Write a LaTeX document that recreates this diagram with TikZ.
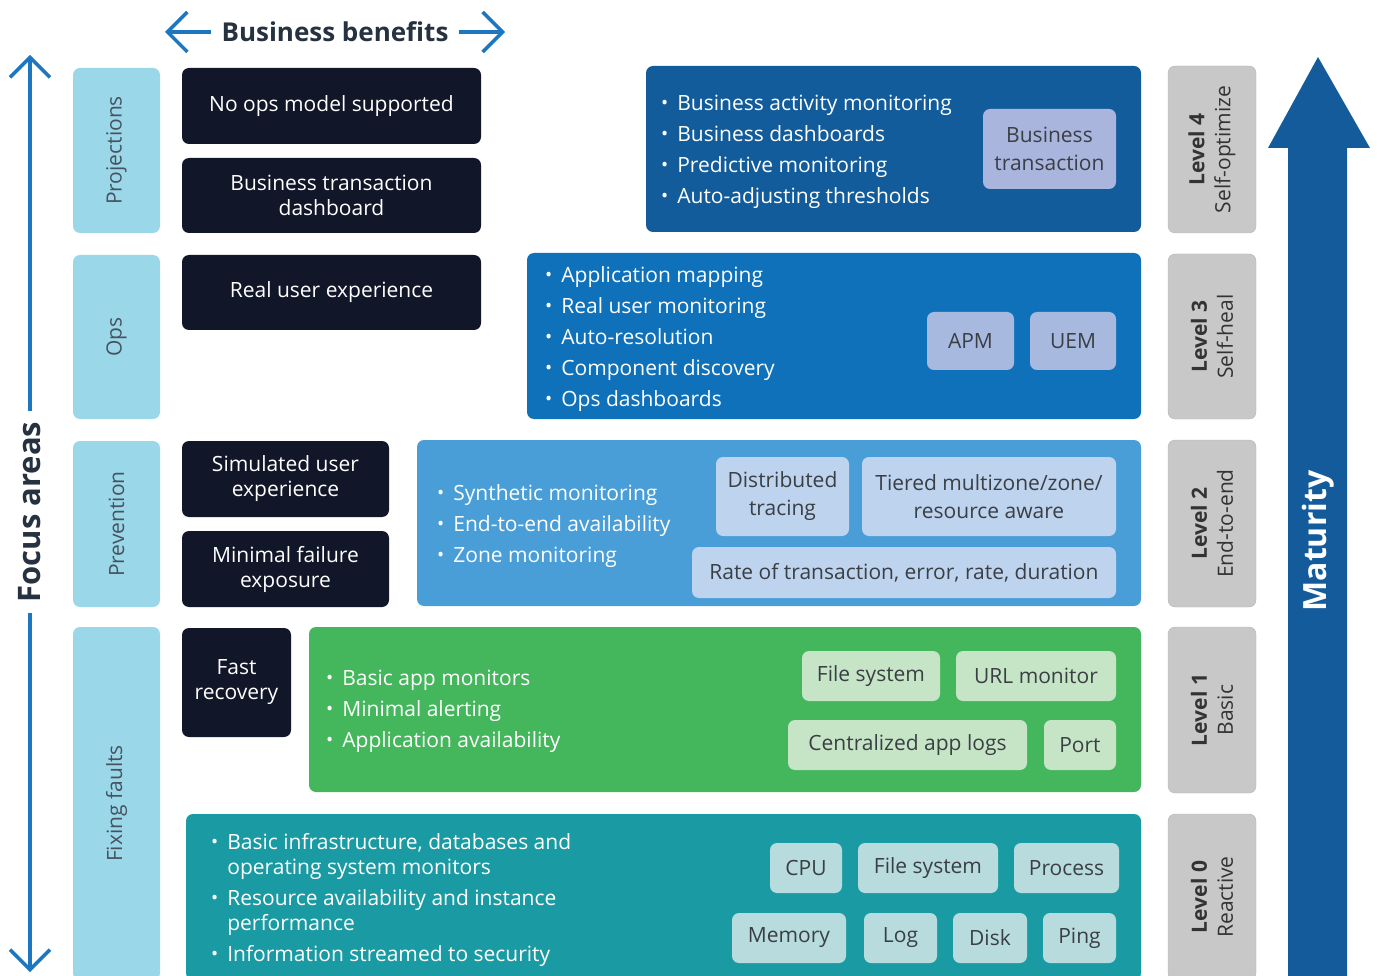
\documentclass[tikz,border=0pt]{standalone}
\usepackage{fontspec}
\setmainfont{Open Sans}
\usepackage{tikz}
\usetikzlibrary{arrows.meta}
\definecolor{navy}{HTML}{111628}
\definecolor{focuscyan}{HTML}{9AD7E9}
\definecolor{focustext}{HTML}{46535F}
\definecolor{levelgrey}{HTML}{C8C8C8}
\definecolor{levelline}{HTML}{B4B4B4}
\definecolor{leveltext}{HTML}{333333}
\definecolor{titletext}{HTML}{26323F}
\definecolor{arrowblue}{HTML}{1D77C0}
\definecolor{maturity}{HTML}{135B9B}
\definecolor{lvfour}{HTML}{135C9C}
\definecolor{lvthree}{HTML}{1071BB}
\definecolor{lvtwo}{HTML}{4A9ED8}
\definecolor{lvone}{HTML}{44B65B}
\definecolor{lvzero}{HTML}{1A9BA3}
\definecolor{chipfour}{HTML}{A9B5DD}
\definecolor{chipthree}{HTML}{A8B9E0}
\definecolor{chiptwo}{HTML}{BED3EE}
\definecolor{chipone}{HTML}{C6E5C7}
\definecolor{chipzero}{HTML}{B8DBDE}
\definecolor{chiptext}{HTML}{3A3F44}
\newcommand\bul{\raisebox{1pt}{\fontsize{19}{19}\selectfont\textbullet}}
\newcommand\blist[1]{\begin{tabular}{@{}l@{\hspace{9pt}}l@{}}#1\end{tabular}}

\begin{document}
\begin{tikzpicture}[x=1pt,y=-1pt]
\tikzstyle{box} = [rounded corners=7pt, inner sep=0pt]
\tikzstyle{focus} = [box, fill=focuscyan, text=focustext, rotate=90, font=\fontsize{21}{25}\selectfont]
\tikzstyle{benefit} = [box, fill=navy, text=white, align=center, font=\fontsize{21}{25}\selectfont]
\tikzstyle{level} = [box, fill=levelgrey, draw=levelline, text=leveltext, align=center, rotate=90, font=\fontsize{21}{26}\selectfont]
\tikzstyle{band} = [box]
\tikzstyle{items} = [anchor=west, text=white, inner sep=0pt, font=\fontsize{21}{25}\selectfont]
\tikzstyle{chip} = [box, text=chiptext, align=center, font=\fontsize{21}{28}\selectfont]
\tikzstyle{barrow} = [arrowblue, line width=3.5pt, -{Straight Barb[length=20pt,width=40pt]}]
\useasboundingbox (0,0) rectangle (1377,976);
\clip (0,0) rectangle (1377,976);

\node[font=\fontsize{26}{30}\selectfont\bfseries, text=titletext, inner sep=10pt] (bb) at (335,32) {Business benefits};
\coordinate (bbleft) at (165,32);
\coordinate (bbright) at (505,32);
\draw[barrow] (bb.west) -- (bbleft);
\draw[barrow] (bb.east) -- (bbright);

\node[font=\fontsize{31}{34}\selectfont\bfseries, text=titletext, rotate=90, inner sep=10pt] (fa) at (30,512) {Focus areas};
\coordinate (fatop) at (30,55);
\coordinate (fabot) at (30,972);
\draw[barrow] (fa.east) -- (fatop);
\draw[barrow] (fa.west) -- (fabot);

\node[focus, minimum width=165pt, minimum height=87pt] (proj) at (116.5,150.5) {Projections};
\node[focus, minimum width=164pt, minimum height=87pt] (ops) at (116.5,337) {Ops};
\node[focus, minimum width=166pt, minimum height=87pt] (prev) at (116.5,524) {Prevention};
\node[focus, minimum width=353pt, minimum height=87pt] (fix) at (116.5,803.5) {Fixing faults};

\node[benefit, minimum width=299pt, minimum height=76pt] (noops) at (331.5,106) {No ops model supported};
\node[benefit, minimum width=299pt, minimum height=75pt] (btd) at (331.5,195.5) {Business transaction\\dashboard};
\node[benefit, minimum width=299pt, minimum height=75pt] (rue) at (331.5,292.5) {Real user experience};
\node[benefit, minimum width=207pt, minimum height=76pt] (sue) at (285.5,479) {Simulated user\\experience};
\node[benefit, minimum width=207pt, minimum height=76pt] (mfe) at (285.5,569) {Minimal failure\\exposure};
\node[benefit, minimum width=109pt, minimum height=109pt] (fast) at (236.5,682.5) {Fast\\recovery};

\node[band, fill=lvfour, minimum width=495pt, minimum height=166pt] (band4) at (893.5,149) {};
\node[items] (items4) at (661,152) {\blist{\bul & Business activity monitoring\\[6pt] \bul & Business dashboards\\[6pt] \bul & Predictive monitoring\\[6pt] \bul & Auto-adjusting thresholds}};
\node[chip, fill=chipfour, minimum width=133pt, minimum height=80pt] (bt) at (1049.5,149) {Business\\transaction};

\node[band, fill=lvthree, minimum width=614pt, minimum height=166pt] (band3) at (834,336) {};
\node[items] (items3) at (545,340) {\blist{\bul & Application mapping\\[6pt] \bul & Real user monitoring\\[6pt] \bul & Auto-resolution\\[6pt] \bul & Component discovery\\[6pt] \bul & Ops dashboards}};
\node[chip, fill=chipthree, minimum width=87pt, minimum height=58pt] (apm) at (970.5,341) {APM};
\node[chip, fill=chipthree, minimum width=86pt, minimum height=58pt] (uem) at (1073,341) {UEM};

\node[band, fill=lvtwo, minimum width=724pt, minimum height=166pt] (band2) at (779,523) {};
\node[items] (items2) at (437,526) {\blist{\bul & Synthetic monitoring\\[6pt] \bul & End-to-end availability\\[6pt] \bul & Zone monitoring}};
\node[chip, fill=chiptwo, minimum width=133pt, minimum height=79pt] (dt) at (782.5,496.5) {Distributed\\tracing};
\node[chip, fill=chiptwo, minimum width=254pt, minimum height=79pt] (tiered) at (989,496.5) {Tiered multizone/zone/\\resource aware};
\node[chip, fill=chiptwo, minimum width=424pt, minimum height=51pt] (rate) at (904,572.5) {Rate of transaction, error, rate, duration};

\node[band, fill=lvone, minimum width=832pt, minimum height=165pt] (band1) at (725,709.5) {};
\node[items] (items1) at (326,711) {\blist{\bul & Basic app monitors\\[6pt] \bul & Minimal alerting\\[6pt] \bul & Application availability}};
\node[chip, fill=chipone, minimum width=138pt, minimum height=50pt] (fsone) at (871,676) {File system};
\node[chip, fill=chipone, minimum width=160pt, minimum height=50pt] (url) at (1036,676) {URL monitor};
\node[chip, fill=chipone, minimum width=239pt, minimum height=50pt] (logs) at (907.5,745) {Centralized app logs};
\node[chip, fill=chipone, minimum width=72pt, minimum height=50pt] (port) at (1080,745) {Port};

\node[band, fill=lvzero, minimum width=955pt, minimum height=166pt] (band0) at (663.5,897) {};
\node[items] (items0) at (211,900) {\blist{\bul & Basic infrastructure, databases and\\ & operating system monitors\\[6pt] \bul & Resource availability and instance\\ & performance\\[6pt] \bul & Information streamed to security}};
\node[chip, fill=chipzero, minimum width=72pt, minimum height=50pt] (cpu) at (806,868) {CPU};
\node[chip, fill=chipzero, minimum width=140pt, minimum height=50pt] (fszero) at (928,868) {File system};
\node[chip, fill=chipzero, minimum width=105pt, minimum height=50pt] (proc) at (1066.5,868) {Process};
\node[chip, fill=chipzero, minimum width=114pt, minimum height=50pt] (mem) at (789,938) {Memory};
\node[chip, fill=chipzero, minimum width=73pt, minimum height=50pt] (log) at (900.5,938) {Log};
\node[chip, fill=chipzero, minimum width=74pt, minimum height=50pt] (disk) at (990,938) {Disk};
\node[chip, fill=chipzero, minimum width=73pt, minimum height=50pt] (ping) at (1079.5,938) {Ping};

\node[level, minimum width=167pt, minimum height=88pt] (lv4) at (1212,149.5) {\textbf{Level 4}\\Self-optimize};
\node[level, minimum width=165pt, minimum height=88pt] (lv3) at (1212,336.5) {\textbf{Level 3}\\Self-heal};
\node[level, minimum width=167pt, minimum height=88pt] (lv2) at (1212,523.5) {\textbf{Level 2}\\End-to-end};
\node[level, minimum width=166pt, minimum height=88pt] (lv1) at (1212,710) {\textbf{Level 1}\\Basic};
\node[level, minimum width=166pt, minimum height=88pt] (lv0) at (1212,897) {\textbf{Level 0}\\Reactive};

\fill[maturity] (1288,990) -- (1288,148) -- (1268,148) -- (1318,57) -- (1370,148) -- (1347,148) -- (1347,990) -- cycle;
\node[font=\fontsize{32}{36}\selectfont\bfseries, text=white, rotate=90] (mat) at (1318,541) {Maturity};
\end{tikzpicture}
\end{document}
